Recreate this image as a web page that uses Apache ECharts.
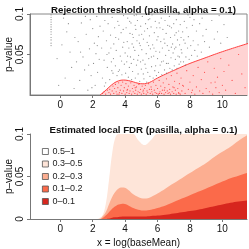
<!DOCTYPE html>
<html><head><meta charset="utf-8">
<script src="https://cdn.jsdelivr.net/npm/echarts@6/dist/echarts.min.js"></script>
<style>html,body{margin:0;padding:0;background:#fff}#c{width:249px;height:249px}</style>
</head><body><div id="c"></div>
<script>
// ---- tick labels ----
const xTicks = [0, 2, 4, 6, 8, 10];
const yTicksTop = [0.05, 0.1];
const yTicksBottom = [0, 0.05, 0.1];

// ---- top panel: rejection threshold curve ----
const thrX = [2.45, 2.7, 3.0, 3.3, 3.6, 3.9, 4.2, 4.5, 4.8, 5.1, 5.5, 6.0, 6.5, 7.0, 7.5, 8.0, 8.5, 9.0, 9.5, 10.0, 10.5, 11.0, 11.65];
const thrY = [0, 0.004, 0.0095, 0.0145, 0.0175, 0.0185, 0.0178, 0.0162, 0.0145, 0.0138, 0.0155, 0.021, 0.0258, 0.0303, 0.0348, 0.039, 0.0427, 0.0463, 0.05, 0.0535, 0.0568, 0.060, 0.064];

// ---- top panel: non-rejected (gray) points ----
const grayPts = [
[-0.57,0.099],[-0.57,0.096],[-0.57,0.093],[-0.57,0.09],[-0.57,0.087],[-0.57,0.084],[-0.57,0.081],[-0.57,0.078],[-0.57,0.075],[-0.57,0.071],[-0.57,0.068],[-0.57,0.064],[-0.57,0.061],
[-0.2,0.045],[0.1,0.062],[0.3,0.021],[0.5,0.088],[0.7,0.034],[0.9,0.071],[-0.1,0.012],[0.6,0.053],[0.2,0.095],[0.85,0.008],[0.4,0.078],[1.0,0.041],
[1.1,0.066],[1.2,0.018],[1.3,0.089],[1.4,0.047],[1.5,0.031],[1.6,0.075],[1.7,0.006],[1.8,0.057],[1.85,0.093],[1.9,0.024],[2.0,0.082],[2.05,0.039],[2.1,0.064],[2.15,0.012],[2.2,0.051],[2.25,0.097],[2.3,0.028],[2.35,0.072],[2.4,0.044],[2.45,0.085],[1.25,0.053],[1.55,0.097],[1.95,0.009],[2.28,0.061],[1.75,0.037],
[2.55,0.058],[2.6,0.021],[2.65,0.079],[2.7,0.043],[2.75,0.092],[2.8,0.015],[2.85,0.067],[2.9,0.034],[2.95,0.088],[3.0,0.052],[3.05,0.019],[3.1,0.074],[3.15,0.041],[3.2,0.096],[3.25,0.027],[3.3,0.063],[3.35,0.083],[3.4,0.036],[3.45,0.055],[3.5,0.024],[3.55,0.091],[3.6,0.069],[3.65,0.031],[3.7,0.048],[3.75,0.077],[3.8,0.025],[3.85,0.059],[3.9,0.098],[3.95,0.038],[2.72,0.011],[3.12,0.058],[3.42,0.071],[3.62,0.086],[3.78,0.042],[3.92,0.065],[2.88,0.05],[3.28,0.045],[3.58,0.029],[3.88,0.081],[3.18,0.03],
[4.0,0.052],[4.03,0.027],[4.06,0.083],[4.1,0.041],[4.13,0.066],[4.16,0.095],[4.2,0.022],[4.23,0.058],[4.26,0.034],[4.3,0.076],[4.33,0.047],[4.36,0.089],[4.4,0.019],[4.43,0.063],[4.46,0.029],[4.5,0.071],[4.53,0.044],[4.56,0.098],[4.6,0.055],[4.63,0.021],[4.66,0.081],[4.7,0.037],[4.73,0.067],[4.76,0.092],[4.8,0.026],[4.83,0.049],[4.86,0.074],[4.9,0.017],[4.93,0.061],[4.96,0.085],[5.0,0.032],[5.03,0.056],[5.06,0.097],[5.1,0.043],[5.13,0.069],[5.16,0.02],[5.2,0.079],[5.23,0.038],[5.26,0.088],[5.3,0.051],[5.33,0.016],[5.36,0.065],[5.4,0.028],[5.43,0.093],[5.46,0.045],[5.5,0.073],[5.53,0.023],[5.56,0.057],[5.6,0.084],[5.63,0.035],[5.66,0.099],[5.7,0.062],[5.73,0.021],[5.76,0.048],[5.8,0.077],[5.83,0.03],[5.86,0.091],[5.9,0.054],[5.93,0.024],[5.96,0.068],
[4.15,0.048],[4.38,0.039],[4.62,0.086],[4.88,0.064],[5.12,0.026],[5.38,0.082],[5.62,0.047],[5.88,0.036],[4.28,0.091],[4.52,0.059],[4.78,0.043],[5.02,0.075],[5.28,0.033],[5.52,0.094],[5.78,0.058],[4.45,0.075],[4.95,0.041],[5.45,0.061],[5.95,0.083],[4.7,0.099],
[6.0,0.045],[6.03,0.072],[6.06,0.028],[6.1,0.089],[6.13,0.053],[6.16,0.037],[6.2,0.066],[6.23,0.095],[6.26,0.025],[6.3,0.058],[6.33,0.081],[6.36,0.042],[6.4,0.069],[6.43,0.031],[6.46,0.092],[6.5,0.049],[6.53,0.076],[6.56,0.027],[6.6,0.061],[6.63,0.086],[6.66,0.039],[6.7,0.055],[6.73,0.097],[6.76,0.033],[6.8,0.071],[6.83,0.046],[6.86,0.083],[6.9,0.031],[6.93,0.063],[6.96,0.052],[7.0,0.088],[7.03,0.036],[7.06,0.074],[7.1,0.044],[7.13,0.059],[7.16,0.093],[7.2,0.033],[7.23,0.068],[7.26,0.048],[7.3,0.079],[7.33,0.038],[7.36,0.062],[7.4,0.087],[7.43,0.041],[7.46,0.056],[6.15,0.083],[6.45,0.064],[6.75,0.085],[7.05,0.057],[7.35,0.047],[6.25,0.041],[6.55,0.039],[6.85,0.059],[7.15,0.077],[7.45,0.071],
[7.5,0.052],[7.55,0.078],[7.6,0.041],[7.65,0.091],[7.7,0.064],[7.75,0.047],[7.8,0.083],[7.85,0.058],[7.9,0.072],[7.95,0.044],[8.0,0.096],[8.05,0.061],[8.1,0.049],[8.15,0.086],[8.2,0.067],[8.3,0.055],[8.4,0.079],[8.5,0.062],[8.6,0.088],[8.7,0.053],[8.8,0.073],[8.9,0.066],[7.62,0.068],[7.88,0.099],[8.25,0.093],[8.45,0.048],[8.75,0.095],[7.72,0.037],
[9.0,0.081],[9.2,0.059],[9.35,0.092],[9.5,0.069],[9.7,0.078],[9.9,0.064],[10.1,0.087],[10.3,0.071],[9.8,0.098]
];

// ---- top panel: rejected (red) points ----
const redPts = [
[2.6,0.002],[2.7,0.004],[2.8,0.001],[2.9,0.006],[3.0,0.003],[3.05,0.007],[3.1,0.001],[3.2,0.005],[3.25,0.011],[3.3,0.002],[3.35,0.008],[3.4,0.013],[3.45,0.004],[3.5,0.001],[3.55,0.009],[3.6,0.015],[3.65,0.003],[3.7,0.006],[3.75,0.012],[3.8,0.002],[3.85,0.016],[3.9,0.005],[3.95,0.009],[4.0,0.001],[4.05,0.014],[4.1,0.003],[4.15,0.007],[4.2,0.011],[4.25,0.002],[4.3,0.005],[4.35,0.015],[4.4,0.001],[4.45,0.008],[4.5,0.004],[4.55,0.012],[4.6,0.002],[4.65,0.006],[4.7,0.01],[4.75,0.001],[4.8,0.004],[4.85,0.013],[4.9,0.003],[4.95,0.007],[5.0,0.001],[5.05,0.011],[5.1,0.004],[5.15,0.002],[5.2,0.008],[5.25,0.012],[5.3,0.001],[5.35,0.005],[5.4,0.003],[5.45,0.014],[5.5,0.007],[5.55,0.002],[5.6,0.01],[5.65,0.004],[5.7,0.001],[5.75,0.016],[5.8,0.006],[5.85,0.003],[5.9,0.012],[5.95,0.002],[6.0,0.008],[6.05,0.001],[6.1,0.018],[6.15,0.004],[6.2,0.011],[6.25,0.002],[6.3,0.006],[6.35,0.015],[6.4,0.001],[6.45,0.009],[6.5,0.003],[6.55,0.02],[6.6,0.005],[6.65,0.002],[6.7,0.013],[6.75,0.007],[6.8,0.001],[6.85,0.024],[6.9,0.004],[6.95,0.01],[7.0,0.002],[7.05,0.017],[7.1,0.006],[7.15,0.001],[7.2,0.027],[7.25,0.008],[7.3,0.003],[7.35,0.014],[7.4,0.001],[7.45,0.021],[7.5,0.005],[7.6,0.011],[7.7,0.002],[7.8,0.03],[7.9,0.007],[8.0,0.016],[8.1,0.003],[8.2,0.024],[8.3,0.001],[8.4,0.01],[8.5,0.034],[8.6,0.005],[8.7,0.019],[8.8,0.002],[8.9,0.028],[9.0,0.008],[9.1,0.041],[9.2,0.004],[9.3,0.015],[9.4,0.001],[9.5,0.033],[9.6,0.009],[9.7,0.022],[9.8,0.003],[9.9,0.045],[10.0,0.012],[10.2,0.006],[10.4,0.037],[10.6,0.018],[10.8,0.002],[11.0,0.05],[11.2,0.026],[11.4,0.009],[6.12,0.002],[6.42,0.006],[6.72,0.003],[7.02,0.009],[7.32,0.002],[5.12,0.006],[4.62,0.009],[4.12,0.006],[3.62,0.001],[5.62,0.007],[8.15,0.006],[7.55,0.012],[9.55,0.016],[10.1,0.029]
];

// ---- bottom panel: local FDR class boundaries (upper edge of each band) ----
const fdrX   = [2.2, 2.4, 2.6, 2.8, 3.0, 3.2, 3.4, 3.6, 3.9, 4.2, 4.5, 4.8, 5.2, 5.6, 6.0, 6.5, 7.0, 7.5, 8.0, 8.5, 9.0, 9.5, 10.0, 10.5, 11.0, 11.65];
const fdr05  = [0, 0.001, 0.004, 0.017, 0.045, 0.077, 0.096, 0.1, 0.1, 0.1, 0.1, 0.093, 0.087, 0.093, 0.1, 0.1, 0.1, 0.1, 0.1, 0.1, 0.1, 0.1, 0.1, 0.1, 0.1, 0.1];
const fdr03  = [0, 0, 0.003, 0.008, 0.017, 0.026, 0.032, 0.036, 0.037, 0.034, 0.029, 0.026, 0.024, 0.026, 0.03, 0.036, 0.042, 0.048, 0.054, 0.06, 0.066, 0.073, 0.079, 0.085, 0.092, 0.1];
const fdr02  = [0, 0, 0.001, 0.004, 0.008, 0.012, 0.015, 0.017, 0.018, 0.016, 0.013, 0.011, 0.01, 0.011, 0.013, 0.016, 0.02, 0.024, 0.028, 0.032, 0.036, 0.04, 0.044, 0.048, 0.051, 0.055];
const fdr01  = [0, 0, 0, 0, 0.0005, 0.0015, 0.002, 0.0025, 0.003, 0.003, 0.003, 0.003, 0.003, 0.0035, 0.004, 0.005, 0.0065, 0.008, 0.0095, 0.011, 0.013, 0.015, 0.017, 0.019, 0.0205, 0.022];
const classNames = ['0.5–1', '0.3–0.5', '0.2–0.3', '0.1–0.2', '0–0.1'];

const FONT = 'Liberation Sans, Arial, sans-serif';
const zip = (xs, ys) => xs.map((x, i) => [x, ys[i]]);
const XMIN = -1.87, XMAX = 11.52;

const axisLineStyle = { color: '#777', width: 1 };
function xAxis(gridIndex, name) {
  return {
    type: 'value', gridIndex, min: XMIN, max: XMAX,
    axisLine: { show: true, lineStyle: axisLineStyle, onZero: false },
    axisTick: { show: true, length: 3, lineStyle: axisLineStyle, customValues: xTicks },
    axisLabel: { customValues: xTicks, fontSize: 10, color: '#111', fontFamily: FONT, margin: 5 },
    splitLine: { show: false },
    name: name || '', nameLocation: 'middle', nameGap: 19, nameMoveOverlap: false,
    nameTextStyle: { fontSize: 10, color: '#111', fontFamily: FONT }
  };
}
function yAxis(gridIndex, ticks) {
  return {
    type: 'value', gridIndex, min: 0, max: 0.1,
    axisLine: { show: true, lineStyle: axisLineStyle, onZero: false },
    axisTick: { show: true, length: 3, lineStyle: axisLineStyle, customValues: ticks },
    axisLabel: { customValues: ticks, rotate: 90, fontSize: 10, color: '#111', fontFamily: FONT, margin: 5 },
    splitLine: { show: false },
    name: 'p–value', nameLocation: 'middle', nameRotate: 90, nameGap: 16, nameMoveOverlap: false,
    nameTextStyle: { fontSize: 10, color: '#111', fontFamily: FONT }
  };
}

const bandColors = ['#ffffff', '#fee5d9', '#fcae91', '#fb6a4a', '#d7261e'];
function band(name, ys, color) {
  return {
    type: 'line', name, xAxisIndex: 1, yAxisIndex: 1,
    data: zip(fdrX, ys), smooth: 0.4, symbol: 'none',
    lineStyle: { width: 0, color },
    itemStyle: { color },
    areaStyle: { color, opacity: 1, origin: 'start' },
    silent: true
  };
}

const chart = echarts.init(document.getElementById('c'), null, { renderer: 'canvas' });
chart.setOption({
  animation: false,
  textStyle: { fontFamily: FONT },
  title: [
    { text: 'Rejection threshold (pasilla, alpha = 0.1)', left: 138.5, top: 0, textAlign: 'center',
      textStyle: { fontSize: 9.7, fontWeight: 'bold', color: '#111', fontFamily: FONT } },
    { text: 'Estimated local FDR (pasilla, alpha = 0.1)', left: 138.5, top: 120, textAlign: 'center',
      textStyle: { fontSize: 9.7, fontWeight: 'bold', color: '#111', fontFamily: FONT } }
  ],
  grid: [
    { left: 30, top: 14, width: 217, height: 81, show: true, borderColor: '#888', borderWidth: 1, backgroundColor: 'transparent', containLabel: false, outerBoundsMode: 'none' },
    { left: 30, top: 134, width: 217, height: 85, containLabel: false, outerBoundsMode: 'none' }
  ],
  xAxis: [xAxis(0), xAxis(1, 'x = log(baseMean)')],
  yAxis: [yAxis(0, yTicksTop), yAxis(1, yTicksBottom)],
  legend: {
    orient: 'vertical', left: 37, top: 142, itemWidth: 6, itemHeight: 6, itemGap: 3.5,
    icon: 'rect', selectedMode: false,
    textStyle: { fontSize: 9, color: '#222', fontFamily: FONT, padding: [0, 0, 0, -1] },
    data: classNames.map((n, i) => ({ name: n, itemStyle: { color: bandColors[i], borderColor: '#555', borderWidth: 0.8 } }))
  },
  series: [
    { type: 'line', name: 'threshold', xAxisIndex: 0, yAxisIndex: 0, data: zip(thrX, thrY),
      smooth: 0.4, symbol: 'none', lineStyle: { color: '#ff4040', width: 1 },
      areaStyle: { color: '#ffd3d3', opacity: 1, origin: 'start' }, z: 1 },
    { type: 'scatter', name: 'rejected', xAxisIndex: 0, yAxisIndex: 0, data: redPts,
      symbolSize: 1.2, itemStyle: { color: '#ff2a2a', opacity: 0.8 }, z: 2 },
    { type: 'scatter', name: 'kept', xAxisIndex: 0, yAxisIndex: 0, data: grayPts,
      symbolSize: 1.2, itemStyle: { color: '#666', opacity: 0.75 }, z: 2 },
    { type: 'line', name: classNames[0], xAxisIndex: 1, yAxisIndex: 1, data: [], itemStyle: { color: bandColors[0] } },
    band(classNames[1], fdr05, bandColors[1]),
    band(classNames[2], fdr03, bandColors[2]),
    band(classNames[3], fdr02, bandColors[3]),
    band(classNames[4], fdr01, bandColors[4])
  ]
});
</script></body></html>
